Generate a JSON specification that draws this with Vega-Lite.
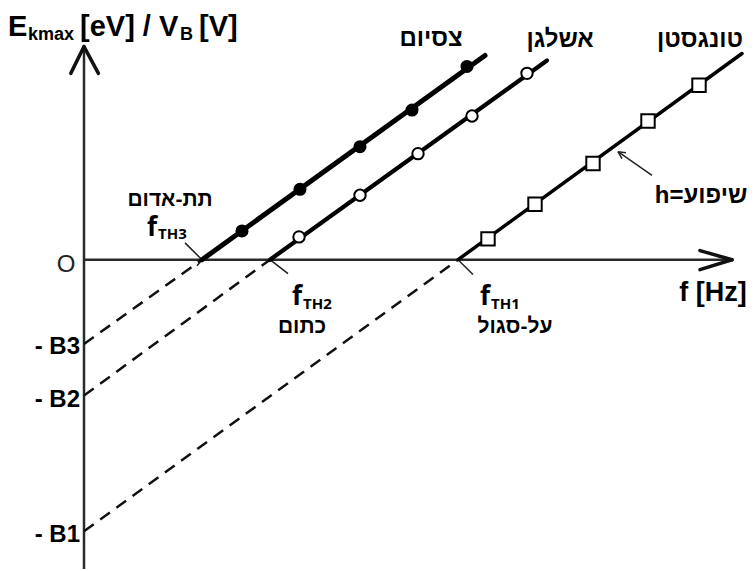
{
  "$schema": "https://vega.github.io/schema/vega-lite/v6.json",
  "width": 754,
  "height": 571,
  "autosize": {"type": "fit", "contains": "padding"},
  "padding": 0,
  "background": "white",
  "config": {"view": {"stroke": null}},
  "datasets": {
    "guides": [
      {"kind": "axis", "f1": 0, "e1": -7.8, "f2": 0, "e2": 5.3},
      {"kind": "axis", "f1": 0, "e1": 0, "f2": 16.15, "e2": 0},
      {"kind": "arrow", "f1": 0, "e1": 5.375, "f2": -0.33, "e2": 4.7},
      {"kind": "arrow", "f1": 0, "e1": 5.375, "f2": 0.36, "e2": 4.7},
      {"kind": "arrow", "f1": 16.2, "e1": 0, "f2": 15.4, "e2": 0.23},
      {"kind": "arrow", "f1": 16.2, "e1": 0, "f2": 15.4, "e2": -0.25},
      {"kind": "leader", "f1": 2.525, "e1": 0.425, "f2": 2.95, "e2": 0},
      {"kind": "leader", "f1": 2.95, "e1": 0, "f2": 2.825, "e2": -0.15},
      {"kind": "leader", "f1": 4.65, "e1": 0, "f2": 5.1, "e2": -0.35},
      {"kind": "leader", "f1": 4.65, "e1": 0, "f2": 4.8, "e2": 0.125},
      {"kind": "leader", "f1": 9.35, "e1": 0, "f2": 9.725, "e2": -0.375},
      {"kind": "leader", "f1": 9.35, "e1": 0, "f2": 9.5, "e2": 0.125},
      {"kind": "leader", "f1": 14.2, "e1": 2.125, "f2": 13.35, "e2": 2.725},
      {"kind": "leader", "f1": 13.35, "e1": 2.725, "f2": 13.45, "e2": 2.55},
      {"kind": "leader", "f1": 13.35, "e1": 2.725, "f2": 13.55, "e2": 2.7}
    ],
    "segments": [
      {"metal": "cesium", "part": "extrapolated", "f1": 0, "e1": -2.125, "f2": 2.95, "e2": 0},
      {"metal": "potassium", "part": "extrapolated", "f1": 0, "e1": -3.425, "f2": 4.65, "e2": 0},
      {"metal": "tungsten", "part": "extrapolated", "f1": 0, "e1": -6.85, "f2": 9.35, "e2": 0},
      {"metal": "cesium", "part": "measured", "f1": 2.95, "e1": 0, "f2": 10.025, "e2": 5.15},
      {"metal": "potassium", "part": "measured", "f1": 4.65, "e1": 0, "f2": 11.575, "e2": 5.025},
      {"metal": "tungsten", "part": "measured", "f1": 9.35, "e1": 0, "f2": 16.45, "e2": 5.2}
    ],
    "points": [
      {"metal": "cesium", "f": 3.95, "E": 0.725},
      {"metal": "cesium", "f": 5.4, "E": 1.775},
      {"metal": "cesium", "f": 6.9, "E": 2.85},
      {"metal": "cesium", "f": 8.2, "E": 3.775},
      {"metal": "cesium", "f": 9.575, "E": 4.875},
      {"metal": "potassium", "f": 5.375, "E": 0.575},
      {"metal": "potassium", "f": 6.9, "E": 1.625},
      {"metal": "potassium", "f": 8.35, "E": 2.675},
      {"metal": "potassium", "f": 9.7, "E": 3.625},
      {"metal": "potassium", "f": 11.075, "E": 4.7},
      {"metal": "tungsten", "f": 10.1, "E": 0.525},
      {"metal": "tungsten", "f": 11.275, "E": 1.4},
      {"metal": "tungsten", "f": 12.725, "E": 2.425},
      {"metal": "tungsten", "f": 14.1, "E": 3.5},
      {"metal": "tungsten", "f": 15.375, "E": 4.4}
    ],
    "labels": [
      {"role": "title", "text": "E", "f": -1.9, "E": 5.65},
      {"role": "titlesub", "text": "kmax", "f": -1.4, "E": 5.55},
      {"role": "title", "text": "[eV] / V", "f": -0.1, "E": 5.65},
      {"role": "titlesub", "text": "B", "f": 2.4, "E": 5.55},
      {"role": "title", "text": "[V]", "f": 2.875, "E": 5.65},
      {"role": "metal", "text": "צסיום", "f": 8.675, "E": 5.575},
      {"role": "metal", "text": "אשלגן", "f": 11.9, "E": 5.55},
      {"role": "metal", "text": "טונגסטן", "f": 15.4, "E": 5.55},
      {"role": "band", "text": "תת-אדום", "f": 2.15, "E": 1.5},
      {"role": "band", "text": "כתום", "f": 5.45, "E": -1.7},
      {"role": "band", "text": "על-סגול", "f": 10.775, "E": -1.7},
      {"role": "fsym", "text": "f", "f": 1.575, "E": 0.6},
      {"role": "fsub", "text": "TH3", "f": 1.85, "E": 0.525},
      {"role": "fsym", "text": "f", "f": 5.2, "E": -1.15},
      {"role": "fsub", "text": "TH2", "f": 5.475, "E": -1.25},
      {"role": "fsym", "text": "f", "f": 9.9, "E": -1.15},
      {"role": "fsub", "text": "TH1", "f": 10.175, "E": -1.25},
      {"role": "xtitle", "text": "f [Hz]", "f": 15.725, "E": -0.85},
      {"role": "origin", "text": "O", "f": -0.45, "E": -0.125},
      {"role": "intercept", "text": "- B3", "f": -0.1, "E": -2.2},
      {"role": "intercept", "text": "- B2", "f": -0.1, "E": -3.55},
      {"role": "intercept", "text": "- B1", "f": -0.1, "E": -6.95},
      {"role": "slope", "text": "h=שיפוע", "f": 15.425, "E": 1.6}
    ]
  },
  "encoding": {
    "x": {"type": "quantitative", "scale": {"domain": [-2.1, 16.75], "nice": false, "zero": false}, "axis": null},
    "y": {"type": "quantitative", "scale": {"domain": [-7.725, 6.55], "nice": false, "zero": false}, "axis": null}
  },
  "layer": [
    {
      "data": {"name": "guides"},
      "transform": [{"filter": "datum.kind === 'axis'"}],
      "mark": {"type": "rule", "stroke": "#2a2a2a", "strokeWidth": 2.5},
      "encoding": {"x": {"field": "f1"}, "y": {"field": "e1"}, "x2": {"field": "f2"}, "y2": {"field": "e2"}}
    },
    {
      "data": {"name": "guides"},
      "transform": [{"filter": "datum.kind === 'arrow'"}],
      "mark": {"type": "rule", "stroke": "#111", "strokeWidth": 3.5, "strokeCap": "round"},
      "encoding": {"x": {"field": "f1"}, "y": {"field": "e1"}, "x2": {"field": "f2"}, "y2": {"field": "e2"}}
    },
    {
      "data": {"name": "guides"},
      "transform": [{"filter": "datum.kind === 'leader'"}],
      "mark": {"type": "rule", "stroke": "#222", "strokeWidth": 1.5},
      "encoding": {"x": {"field": "f1"}, "y": {"field": "e1"}, "x2": {"field": "f2"}, "y2": {"field": "e2"}}
    },
    {
      "data": {"name": "segments"},
      "transform": [{"filter": "datum.part === 'extrapolated'"}],
      "mark": {"type": "rule", "stroke": "#111", "strokeWidth": 2.5, "strokeDash": [12, 8]},
      "encoding": {"x": {"field": "f1"}, "y": {"field": "e1"}, "x2": {"field": "f2"}, "y2": {"field": "e2"}}
    },
    {
      "data": {"name": "segments"},
      "transform": [{"filter": "datum.part === 'measured'"}],
      "mark": {"type": "rule", "stroke": "#000", "strokeCap": "round"},
      "encoding": {
        "x": {"field": "f1"}, "y": {"field": "e1"}, "x2": {"field": "f2"}, "y2": {"field": "e2"},
        "strokeWidth": {"field": "metal", "type": "nominal", "scale": {"domain": ["cesium", "potassium", "tungsten"], "range": [5, 3.5, 4.2]}, "legend": null}
      }
    },
    {
      "data": {"name": "points"},
      "transform": [{"filter": "datum.metal === 'cesium'"}],
      "mark": {"type": "point", "shape": "circle", "filled": true, "fill": "#000", "size": 170, "opacity": 1},
      "encoding": {"x": {"field": "f"}, "y": {"field": "E"}}
    },
    {
      "data": {"name": "points"},
      "transform": [{"filter": "datum.metal === 'potassium'"}],
      "mark": {"type": "point", "shape": "circle", "filled": true, "fill": "#fff", "stroke": "#000", "strokeWidth": 2, "size": 130, "opacity": 1},
      "encoding": {"x": {"field": "f"}, "y": {"field": "E"}}
    },
    {
      "data": {"name": "points"},
      "transform": [{"filter": "datum.metal === 'tungsten'"}],
      "mark": {"type": "point", "shape": "square", "filled": true, "fill": "#fff", "stroke": "#000", "strokeWidth": 2, "size": 180, "opacity": 1},
      "encoding": {"x": {"field": "f"}, "y": {"field": "E"}}
    },
    {
      "data": {"name": "labels"},
      "transform": [{"filter": "datum.role === 'title'"}],
      "mark": {"type": "text", "font": "Liberation Sans", "fontWeight": "bold", "fontSize": 29, "align": "left", "baseline": "alphabetic", "color": "#000"},
      "encoding": {"x": {"field": "f"}, "y": {"field": "E"}, "text": {"field": "text"}}
    },
    {
      "data": {"name": "labels"},
      "transform": [{"filter": "datum.role === 'titlesub'"}],
      "mark": {"type": "text", "font": "Liberation Sans", "fontWeight": "bold", "fontSize": 18, "align": "left", "baseline": "alphabetic", "color": "#000"},
      "encoding": {"x": {"field": "f"}, "y": {"field": "E"}, "text": {"field": "text"}}
    },
    {
      "data": {"name": "labels"},
      "transform": [{"filter": "datum.role === 'metal' || datum.role === 'slope'"}],
      "mark": {"type": "text", "font": "Liberation Sans", "fontWeight": "bold", "fontSize": 24, "align": "center", "baseline": "middle", "color": "#000"},
      "encoding": {"x": {"field": "f"}, "y": {"field": "E"}, "text": {"field": "text"}}
    },
    {
      "data": {"name": "labels"},
      "transform": [{"filter": "datum.role === 'band'"}],
      "mark": {"type": "text", "font": "Liberation Sans", "fontWeight": "bold", "fontSize": 21, "align": "center", "baseline": "middle", "color": "#000"},
      "encoding": {"x": {"field": "f"}, "y": {"field": "E"}, "text": {"field": "text"}}
    },
    {
      "data": {"name": "labels"},
      "transform": [{"filter": "datum.role === 'fsym'"}],
      "mark": {"type": "text", "font": "Open Sans, DejaVu Sans", "fontWeight": "bold", "fontSize": 26, "align": "left", "baseline": "alphabetic", "color": "#000"},
      "encoding": {"x": {"field": "f"}, "y": {"field": "E"}, "text": {"field": "text"}}
    },
    {
      "data": {"name": "labels"},
      "transform": [{"filter": "datum.role === 'fsub'"}],
      "mark": {"type": "text", "font": "Open Sans, DejaVu Sans", "fontWeight": "bold", "fontSize": 15, "align": "left", "baseline": "alphabetic", "color": "#000"},
      "encoding": {"x": {"field": "f"}, "y": {"field": "E"}, "text": {"field": "text"}}
    },
    {
      "data": {"name": "labels"},
      "transform": [{"filter": "datum.role === 'xtitle'"}],
      "mark": {"type": "text", "font": "Liberation Sans", "fontWeight": "bold", "fontSize": 27, "align": "center", "baseline": "middle", "color": "#000"},
      "encoding": {"x": {"field": "f"}, "y": {"field": "E"}, "text": {"field": "text"}}
    },
    {
      "data": {"name": "labels"},
      "transform": [{"filter": "datum.role === 'origin'"}],
      "mark": {"type": "text", "font": "Liberation Sans", "fontSize": 24, "align": "center", "baseline": "middle", "color": "#222"},
      "encoding": {"x": {"field": "f"}, "y": {"field": "E"}, "text": {"field": "text"}}
    },
    {
      "data": {"name": "labels"},
      "transform": [{"filter": "datum.role === 'intercept'"}],
      "mark": {"type": "text", "font": "Liberation Sans", "fontWeight": "bold", "fontSize": 24, "align": "right", "baseline": "middle", "color": "#000"},
      "encoding": {"x": {"field": "f"}, "y": {"field": "E"}, "text": {"field": "text"}}
    }
  ]
}
